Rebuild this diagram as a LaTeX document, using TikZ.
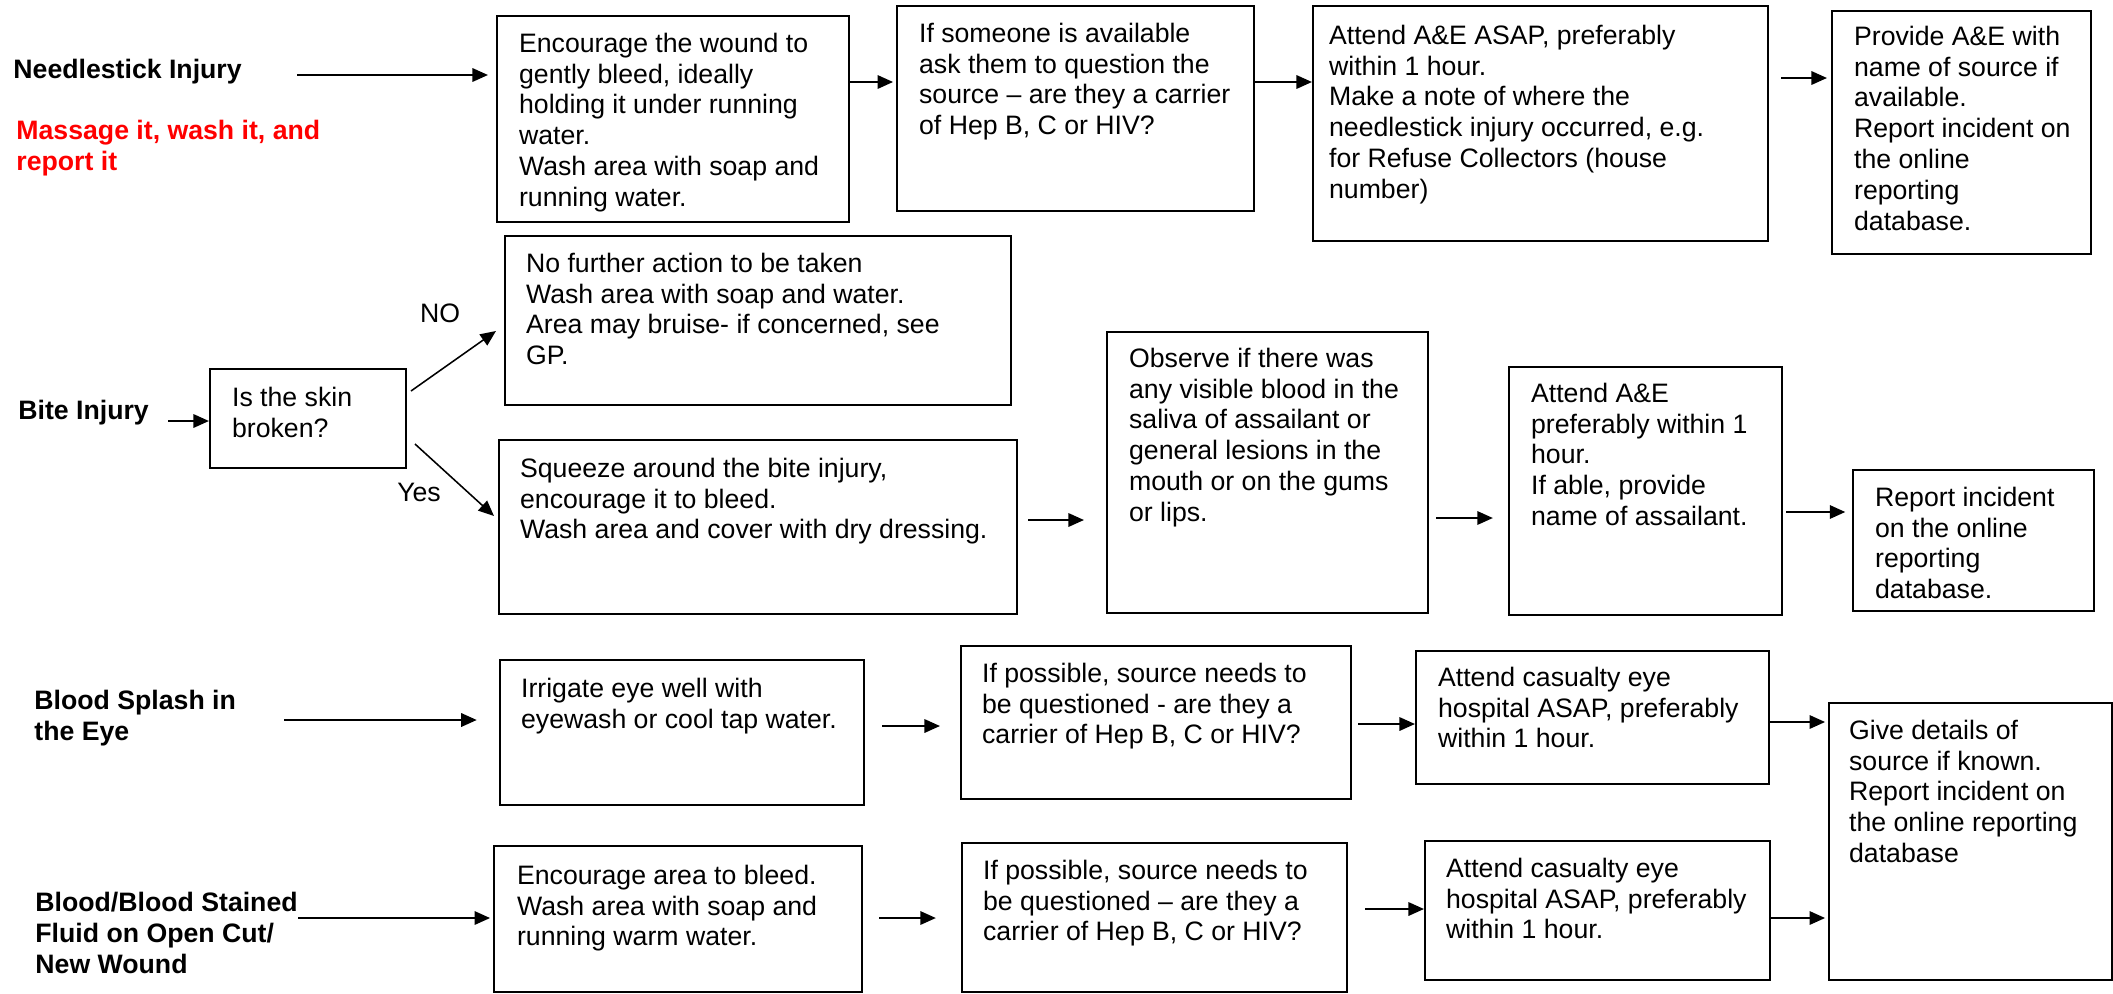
\documentclass[tikz,border=0pt]{standalone}
\usepackage{fontspec}
\setmainfont{Liberation Sans}
\usetikzlibrary{arrows.meta}
\newdimen\unitpx \unitpx=0.45pt
\newcommand\bt[5]{\begin{minipage}[c][#2\unitpx][t]{#1\unitpx}\raggedright\leftskip=#3\unitpx\relax\rule{0pt}{#4\unitpx}#5\par\end{minipage}}
\begin{document}
\begin{tikzpicture}[x=0.45pt,y=-0.45pt,
  font=\fontsize{12}{13.9}\selectfont,
  box/.style={draw, line width=1pt, inner sep=0pt, anchor=north west},
  lab/.style={font=\fontsize{12}{13.9}\selectfont\bfseries, inner sep=0pt, align=left, anchor=west},
  arr/.style={line width=1pt, -{Triangle[length=7pt,width=6pt]}},
  arrd/.style={line width=0.7pt, -{Triangle[length=7pt,width=6pt]}}]
\useasboundingbox (0,0) rectangle (2113,993);

% Row 1: needlestick
\node[lab] (tneedle) at (13,72) {Needlestick Injury};
\node[lab, text=red] (tred) at (16,148) {Massage it, wash it, and\\report it};
\node[box] (b1) at (496,15) {\bt{352}{206}{22}{36}{Encourage the wound to\\gently bleed, ideally\\holding it under running\\water.\\Wash area with soap and\\running water.}};
\node[box] (b2) at (896,5) {\bt{357}{205}{22}{36}{If someone is available\\ask them to question the\\source – are they a carrier\\of Hep B, C or HIV?}};
\node[box] (b3) at (1312,5) {\bt{455}{235}{16}{38}{Attend A\&E ASAP, preferably\\within 1 hour.\\Make a note of where the\\needlestick injury occurred, e.g.\\for Refuse Collectors (house\\number)}};
\node[box] (b4) at (1831,10) {\bt{259}{243}{22}{34}{Provide A\&E with\\name of source if\\available.\\Report incident on\\the online\\reporting\\database.}};
\coordinate (s1) at (297,75);
\draw[arr, shorten >=3.6pt] (s1) -- (s1 -| b1.west);
\draw[arr, shorten >=1.3pt] (b1.east |- 0,82) -- (b2.west |- 0,82);
\draw[arr] (b2.east |- 0,82) -- (b3.west |- 0,82);
\draw[arr, shorten <=5.4pt, shorten >=1.8pt] (b3.east |- 0,78) -- (b4.west |- 0,78);

% Row 2: bite
\node[lab] (tbite) at (18,413) {Bite Injury};
\node[box] (skin) at (209,368) {\bt{196}{99}{22}{37}{Is the skin\\broken?}};
\node[box] (nob) at (504,235) {\bt{506}{169}{21}{36}{No further action to be taken\\Wash area with soap and water.\\Area may bruise- if concerned, see\\GP.}};
\node[box] (yesb) at (498,439) {\bt{518}{174}{21}{37}{Squeeze around the bite injury,\\encourage it to bleed.\\Wash area and cover with dry dressing.}};
\node[box] (obs) at (1106,331) {\bt{321}{281}{22}{35}{Observe if there was\\any visible blood in the\\saliva of assailant or\\general lesions in the\\mouth or on the gums\\or lips.}};
\node[box] (att) at (1508,366) {\bt{273}{248}{22}{35}{Attend A\&E\\preferably within 1\\hour.\\If able, provide\\name of assailant.}};
\node[box] (rep) at (1852,469) {\bt{241}{141}{22}{36}{Report incident\\on the online\\reporting\\database.}};
\node[inner sep=0pt] (lno) at (440,313) {NO};
\node[inner sep=0pt] (lyes) at (419,492) {Yes};
\coordinate (s2) at (168,421);
\draw[arr] (s2) -- (s2 -| skin.west);
\coordinate (no1) at (411,391);
\coordinate (no2) at (496,331);
\draw[arrd] (no1) -- (no2);
\coordinate (ye1) at (415,444);
\coordinate (ye2) at (494,516);
\draw[arrd] (ye1) -- (ye2);
\draw[arr, shorten <=4.5pt, shorten >=9.9pt] (yesb.east |- 0,520) -- (obs.west |- 0,520);
\draw[arr, shorten <=3.2pt, shorten >=6.8pt] (obs.east |- 0,518) -- (att.west |- 0,518);
\draw[arr, shorten <=1.3pt, shorten >=3pt] (att.east |- 0,512) -- (rep.west |- 0,512);

% Row 3: splash
\node[lab] (tsplash) at (34,718) {Blood Splash in\\the Eye};
\node[box] (irr) at (499,659) {\bt{364}{145}{21}{37}{Irrigate eye well with\\eyewash or cool tap water.}};
\node[box] (ifp1) at (960,645) {\bt{390}{153}{21}{36}{If possible, source needs to\\be questioned - are they a\\carrier of Hep B, C or HIV?}};
\node[box] (ac1) at (1415,650) {\bt{353}{133}{22}{35}{Attend casualty eye\\hospital ASAP, preferably\\within 1 hour.}};
\node[box] (gd) at (1828,702) {\bt{283}{277}{20}{36}{Give details of\\source if known.\\Report incident on\\the online reporting\\database}};
\coordinate (s3) at (284,720);
\draw[arr, shorten >=10pt] (s3) -- (s3 -| irr.west);
\draw[arr, shorten <=7.7pt, shorten >=9pt] (irr.east |- 0,726) -- (ifp1.west |- 0,726);
\draw[arr, shorten <=2.7pt] (ifp1.east |- 0,724) -- (ac1.west |- 0,724);
\draw[arr, shorten >=1.3pt] (ac1.east |- 0,722) -- (gd.west |- 0,722);

% Row 4: blood
\node[lab] (tblood) at (35,933) {Blood/Blood Stained\\Fluid on Open Cut/\\New Wound};
\node[box] (ea) at (493,845) {\bt{368}{146}{23}{38}{Encourage area to bleed.\\Wash area with soap and\\running warm water.}};
\node[box] (ifp2) at (961,842) {\bt{385}{149}{21}{36}{If possible, source needs to\\be questioned – are they a\\carrier of Hep B, C or HIV?}};
\node[box] (ac2) at (1424,840) {\bt{345}{139}{21}{36}{Attend casualty eye\\hospital ASAP, preferably\\within 1 hour.}};
\coordinate (s4) at (298,918);
\draw[arr, shorten >=1.3pt] (s4) -- (s4 -| ea.west);
\draw[arr, shorten <=7.2pt, shorten >=11.3pt] (ea.east |- 0,918) -- (ifp2.west |- 0,918);
\draw[arr, shorten <=7.7pt] (ifp2.east |- 0,909) -- (ac2.west |- 0,909);
\draw[arr, shorten >=1.3pt] (ac2.east |- 0,918) -- (gd.west |- 0,918);
\end{tikzpicture}
\end{document}
